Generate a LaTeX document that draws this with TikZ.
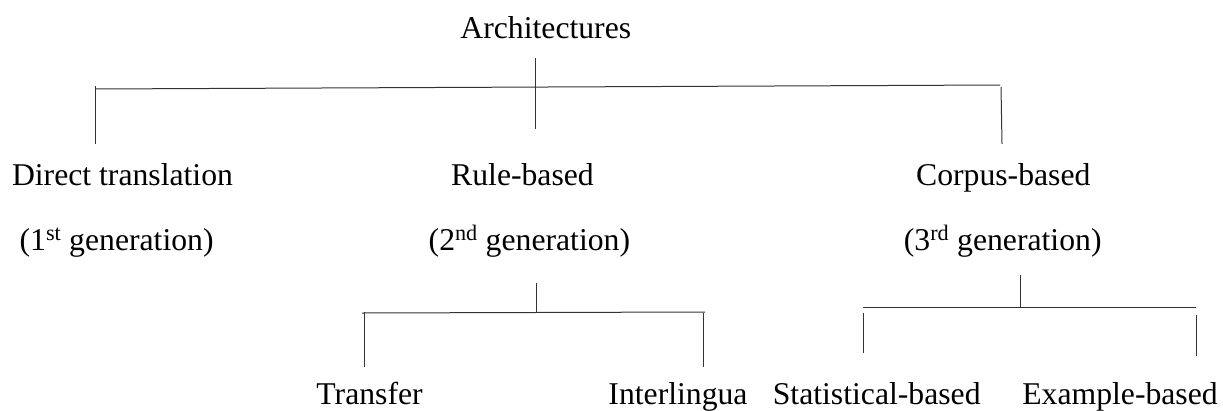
\documentclass[tikz,border=0pt]{standalone}
\usepackage{fontspec}
\setmainfont{Liberation Serif}
\usetikzlibrary{positioning}

\begin{document}
\begin{tikzpicture}[x=1pt, y=-1pt,
    every node/.style={anchor=base, inner sep=0pt, font=\fontsize{31.7}{38}\selectfont},
    branch/.style={draw=black!80, line width=1pt}]

    \useasboundingbox (0,0) rectangle (1223,410);

    % level 0 and 1
    \node (arch) at (545.8,38) {Architectures};
    \node (direct) at (122.5,185) {Direct translation};
    \node (rule) at (522.5,185) {Rule-based};
    \node (corpus) at (1003.3,185) {Corpus-based};
    \node (gen1) at (116.6,250) {(1\textsuperscript{st} generation)};
    \node (gen2) at (529.4,250) {(2\textsuperscript{nd} generation)};
    \node (gen3) at (1002.7,250) {(3\textsuperscript{rd} generation)};

    % level 2
    \node (transfer) at (369.6,404) {Transfer};
    \node (inter) at (678,404) {Interlingua};
    \node (stat) at (876.7,404) {Statistical-based};
    \node (example) at (1120,404) {Example-based};

    % bracket points
    \coordinate (archStem) at (535,58);
    \coordinate (archFoot) at (535,129);
    \coordinate (topL) at (95,89);
    \coordinate (topR) at (1000,85);
    \coordinate (directTop) at (95,86);
    \coordinate (directFoot) at (95,144);
    \coordinate (corpusTop) at (1001,87);
    \coordinate (corpusFoot) at (1002,144);

    \coordinate (gen2Stem) at (536,283);
    \coordinate (gen2Join) at (536,313);
    \coordinate (gen2L) at (362,313);
    \coordinate (gen2R) at (705,312);
    \coordinate (transferTop) at (364,312);
    \coordinate (transferFoot) at (364,367);
    \coordinate (interTop) at (703,313);
    \coordinate (interFoot) at (703,367);

    \coordinate (gen3Stem) at (1020,275);
    \coordinate (gen3Join) at (1020,307.5);
    \coordinate (gen3L) at (863,307.5);
    \coordinate (gen3R) at (1196,307.5);
    \coordinate (statTop) at (863,312.7);
    \coordinate (statFoot) at (863,352.7);
    \coordinate (exampleTop) at (1196,315);
    \coordinate (exampleFoot) at (1196,356);

    \draw[branch] (archStem) -- (archFoot);
    \draw[branch] (topL) -- (topR);
    \draw[branch] (directTop) -- (directFoot);
    \draw[branch] (corpusTop) -- (corpusFoot);

    \draw[branch] (gen2Stem) -- (gen2Join);
    \draw[branch] (gen2L) -- (gen2R);
    \draw[branch] (transferTop) -- (transferFoot);
    \draw[branch] (interTop) -- (interFoot);

    \draw[branch] (gen3Stem) -- (gen3Join);
    \draw[branch] (gen3L) -- (gen3R);
    \draw[branch] (statTop) -- (statFoot);
    \draw[branch] (exampleTop) -- (exampleFoot);

\end{tikzpicture}
\end{document}
